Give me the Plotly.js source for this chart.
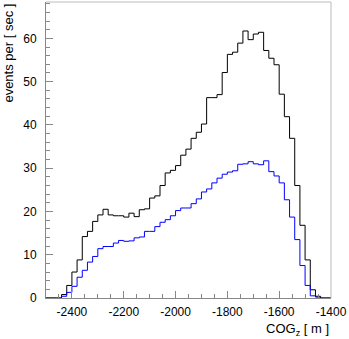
<!DOCTYPE html>
<html>
<head>
<meta charset="utf-8">
<script src="https://cdn.plot.ly/plotly-3.0.1.min.js"></script>
<style>html,body{margin:0;padding:0;background:#fff;} #plot{width:349px;height:339px;}</style>
</head>
<body>
<div id="plot"></div>
<script>
// Histogram: 55 bins of 20 m from -2500 to -1400
const binLow = -2500;
const binWidth = 20;
const blackCounts = [0,0,0,0.8,2.9,6.0,8.8,14.2,15.4,17.7,19.2,20.5,19.2,19.0,19.0,18.7,19.6,18.8,20.4,20.6,23.1,23.6,26.0,28.9,29.5,30.6,33.0,34.4,36.9,38.3,40.2,46.3,46.3,47.0,52.1,56.3,56.8,58.9,61.7,59.7,61.0,61.4,57.2,55.4,53.9,47.1,41.9,36.9,26.0,16.8,8.8,1.9,0.4,0,0];
const blueCounts  = [0,0,0,0.4,1.3,2.7,4.8,6.4,8.3,9.6,11.4,11.9,11.9,12.7,13.3,13.1,13.2,13.9,14.1,15.4,15.4,16.5,17.5,18.1,19.0,20.2,20.8,20.8,21.8,22.9,24.5,25.2,26.6,27.7,28.6,29.1,29.4,30.9,31.0,31.5,31.0,30.8,31.7,29.2,28.2,26.6,22.7,18.7,13.5,7.5,2.9,0.5,0.2,0,0];
const xTickVals = [-2400,-2200,-2000,-1800,-1600,-1400];
const xTickText = ["-2400","-2200","-2000","-1800","-1600","-1400"];
const yTickVals = [0,10,20,30,40,50,60];
const yTickText = ["0","10","20","30","40","50","60"];

function stepXY(counts){
  const x=[], y=[];
  for(let i=0;i<counts.length;i++){ x.push(binLow+i*binWidth); y.push(counts[i]); }
  x.push(binLow+counts.length*binWidth); y.push(counts[counts.length-1]);
  return {x,y};
}
const b = stepXY(blackCounts), u = stepXY(blueCounts);
const font = {family:"Liberation Sans, Arial, sans-serif", size:12, color:"#000"};
const tfont = {family:"Liberation Sans, Arial, sans-serif", size:13, color:"#000"};
const data = [
  {x:b.x, y:b.y, mode:"lines", line:{shape:"hv", color:"#000000", width:1}, hoverinfo:"skip"},
  {x:u.x, y:u.y, mode:"lines", line:{shape:"hv", color:"#0000ff", width:1}, hoverinfo:"skip"}
];
const layout = {
  width:349, height:339,
  margin:{l:46, r:18, t:2, b:41},
  paper_bgcolor:"#fff", plot_bgcolor:"#fff",
  showlegend:false, font:font,
  xaxis:{range:[-2500,-1400], showgrid:false, zeroline:false,
    showline:true, linecolor:"#888", linewidth:1, mirror:false,
    ticks:"inside", ticklen:7, tickcolor:"#888", tickwidth:1,
    tickmode:"array", tickvals:xTickVals, ticktext:xTickText,
    minor:{dtick:50, ticks:"inside", ticklen:4, tickcolor:"#888", showgrid:false},
    tickfont:font, ticklabelstandoff:3},
  yaxis:{range:[0,68.4], showgrid:false, zeroline:false,
    showline:true, linecolor:"#888", linewidth:1,
    ticks:"inside", ticklen:7, tickcolor:"#888", tickwidth:1,
    tickmode:"array", tickvals:yTickVals, ticktext:yTickText,
    minor:{dtick:2, ticks:"inside", ticklen:4, tickcolor:"#888", showgrid:false},
    tickfont:font, ticklabelstandoff:6},
  shapes:[
    {type:"line", xref:"paper", yref:"paper", x0:0, x1:1, y0:1, y1:1, line:{color:"#bbb", width:1}},
    {type:"line", xref:"paper", yref:"paper", x0:1, x1:1, y0:0, y1:1, line:{color:"#bbb", width:1}}
  ],
  annotations:[
    {text:"events per [ sec ]", textangle:-90, xref:"paper", yref:"paper", x:-0.133, y:1.0,
     xanchor:"center", yanchor:"top", showarrow:false, font:tfont},
    {text:"COG<sub>z</sub> [ m ]", xref:"paper", yref:"paper", x:1.0, y:-0.07,
     xanchor:"right", yanchor:"top", showarrow:false, font:tfont}
  ]
};
Plotly.newPlot("plot", data, layout, {displayModeBar:false, staticPlot:true});
</script>
</body>
</html>
